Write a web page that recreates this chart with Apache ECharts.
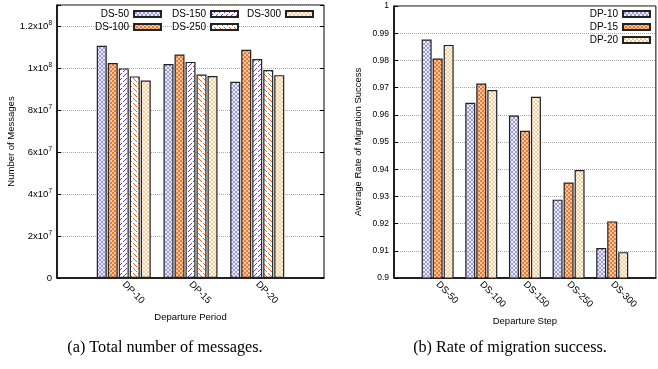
<!DOCTYPE html>
<html><head><meta charset="utf-8">
<script src="https://cdn.jsdelivr.net/npm/echarts@6/dist/echarts.min.js"></script>
<style>html,body{margin:0;padding:0;background:#fff}#c{width:658px;height:369px}</style>
</head><body><div id="c"></div>
<script>
// ---- data: (a) total number of messages ----
const periodCats = ['DP-10', 'DP-15', 'DP-20'];
const msgNames = ['DS-50', 'DS-100', 'DS-150', 'DS-250', 'DS-300'];
const msgDS50  = [1.106e8, 1.019e8, 0.934e8];
const msgDS100 = [1.024e8, 1.064e8, 1.087e8];
const msgDS150 = [0.998e8, 1.029e8, 1.043e8];
const msgDS250 = [0.960e8, 0.969e8, 0.990e8];
const msgDS300 = [0.940e8, 0.962e8, 0.966e8];
const msgTickLabels = {0: '0', 2e7: '2x10{s|7}', 4e7: '4x10{s|7}', 6e7: '6x10{s|7}', 8e7: '8x10{s|7}', 1e8: '1x10{s|8}', 1.2e8: '1.2x10{s|8}'};

// ---- data: (b) rate of migration success ----
const stepCats = ['DS-50', 'DS-100', 'DS-150', 'DS-250', 'DS-300'];
const rateNames = ['DP-10', 'DP-15', 'DP-20'];
const rateDP10 = [0.9877, 0.9644, 0.9597, 0.9288, 0.9110];
const rateDP15 = [0.9807, 0.9715, 0.9541, 0.9351, 0.9208];
const rateDP20 = [0.9857, 0.9691, 0.9666, 0.9397, 0.9095];

// ---- patterns ----
function makePattern(w, h, draw) {
  const c = document.createElement('canvas'); c.width = w; c.height = h;
  const g = c.getContext('2d'); draw(g, w, h);
  return {image: c, repeat: 'repeat'};
}
function lattice(fg, bg) {
  return makePattern(4, 4, (g) => {
    g.fillStyle = bg; g.fillRect(0, 0, 4, 4); g.fillStyle = fg;
    for (let i = 0; i < 4; i++) { g.fillRect(i, i, 1, 1); g.fillRect(3 - i, i, 1, 1); }
  });
}
function checker(a, b) {
  return makePattern(4, 4, (g) => {
    g.fillStyle = b; g.fillRect(0, 0, 4, 4); g.fillStyle = a;
    g.fillRect(0, 0, 2, 2); g.fillRect(2, 2, 2, 2);
  });
}
function stripes(fg, dir) {
  return makePattern(5, 5, (g) => {
    g.fillStyle = '#ffffff'; g.fillRect(0, 0, 5, 5); g.fillStyle = fg;
    for (let i = 0; i < 5; i++) { if (i === 2) continue; const y = dir > 0 ? 4 - i : i; g.fillRect(i, y, 1, 1); }
  });
}
const patLav = lattice('#9c9cd8', '#ececf9');
const patOrange = checker('#e97d38', '#f7c59e');
const patPurple = stripes('#6b3ec4', 1);
const patOrStripe = stripes('#f2620f', -1);
const patCream = lattice('#f8cd9c', '#fffaf3');
const msgPats = [patLav, patOrange, patPurple, patOrStripe, patCream];
const ratePats = [patLav, patOrange, patCream];

const FONT = 'Liberation Sans, Arial, sans-serif';
const barStyle = (p) => ({color: p, borderColor: '#222', borderWidth: 1.2});

const msgData = [msgDS50, msgDS100, msgDS150, msgDS250, msgDS300];
const rateData = [rateDP10, rateDP15, rateDP20];

const series = [];
msgNames.forEach((n, i) => series.push({
  name: n, type: 'bar', xAxisIndex: 0, yAxisIndex: 0, barWidth: 10, barGap: '10%',
  itemStyle: barStyle(msgPats[i]), data: [null, ...msgData[i], null]
}));
rateNames.forEach((n, i) => series.push({
  name: n, type: 'bar', xAxisIndex: 1, yAxisIndex: 2, barWidth: 10, barGap: '10%',
  itemStyle: barStyle(ratePats[i]), data: [null, ...rateData[i], null]
}));

function leg(name, right, top, fs) {
  return {data: [name], right: right, top: top, align: 'right', icon: 'rect', itemWidth: 27, itemHeight: 6,
    padding: 0, selectedMode: false, textStyle: {fontSize: fs, color: '#000', fontFamily: FONT}};
}

const axisBlack = {lineStyle: {color: '#000', width: 1.5}};
const option = {
  animation: false,
  textStyle: {fontFamily: FONT},
  grid: [
    {left: 57, top: 5, width: 267, height: 273, show: true, borderColor: '#000', borderWidth: 1},
    {left: 394, top: 6, width: 267, height: 272, show: true, borderColor: '#000', borderWidth: 1}
  ],
  legend: [
    leg('DS-50', 496, 9, 10), leg('DS-150', 419, 9, 10), leg('DS-300', 344, 9, 10),
    leg('DS-100', 496, 22, 10), leg('DS-250', 419, 22, 10),
    leg('DP-10', 7, 9, 10), leg('DP-15', 7, 22, 10), leg('DP-20', 7, 35, 10)
  ],
  xAxis: [
    {type: 'category', gridIndex: 0, data: ['', ...periodCats, ''], boundaryGap: false,
     axisLine: axisBlack, axisTick: {show: false}, splitLine: {show: false},
     axisLabel: {rotate: -45, fontSize: 9.5, color: '#000', margin: 5, interval: 0},
     name: 'Departure Period', nameLocation: 'middle', nameGap: 27,
     nameTextStyle: {fontSize: 9.5, color: '#000'}},
    {type: 'category', gridIndex: 1, data: ['', ...stepCats, ''], boundaryGap: false,
     axisLine: axisBlack, axisTick: {show: false}, splitLine: {show: false},
     axisLabel: {rotate: -45, fontSize: 9.5, color: '#000', margin: 5, interval: 0},
     name: 'Departure Step', nameLocation: 'middle', nameGap: 30,
     nameTextStyle: {fontSize: 9.5, color: '#000'}}
  ],
  yAxis: [
    {type: 'value', gridIndex: 0, min: 0, max: 1.3e8, interval: 2e7,
     axisLine: {show: true, lineStyle: {color: '#000', width: 1.5}},
     axisTick: {show: true, inside: true, length: 4, lineStyle: {color: '#000'}},
     splitLine: {show: true, lineStyle: {color: '#aaa', type: 'dotted', width: 1}},
     axisLabel: {fontSize: 9.5, color: '#000', margin: 5,
       formatter: (v) => msgTickLabels[v] !== undefined ? msgTickLabels[v] : '',
       rich: {s: {fontSize: 6.5, verticalAlign: 'top', padding: [0, 0, 6, 0]}}},
     name: 'Number of Messages', nameLocation: 'middle', nameGap: 39,
     nameTextStyle: {fontSize: 9.5, color: '#000'}},
    {type: 'value', gridIndex: 0, position: 'right', min: 0, max: 1.3e8, interval: 2e7,
     axisLine: {show: false}, axisLabel: {show: false}, splitLine: {show: false},
     axisTick: {show: true, inside: true, length: 4, lineStyle: {color: '#000'}}},
    {type: 'value', gridIndex: 1, min: 0.9, max: 1, interval: 0.01,
     axisLine: {show: true, lineStyle: {color: '#000', width: 1.5}},
     axisTick: {show: true, inside: true, length: 4, lineStyle: {color: '#000'}},
     splitLine: {show: true, lineStyle: {color: '#aaa', type: 'dotted', width: 1}},
     axisLabel: {fontSize: 8.5, color: '#000', margin: 5, formatter: (v) => String(+v.toFixed(2))},
     name: 'Average Rate of Migration Success', nameLocation: 'middle', nameGap: 31,
     nameTextStyle: {fontSize: 9.5, color: '#000'}}
  ],
  series: series,
  graphic: [
    {type: 'text', style: {text: '(a) Total number of messages.', x: 165, y: 348,
      align: 'center', verticalAlign: 'middle', font: '16.2px "Liberation Serif", "Times New Roman", serif', fill: '#000'}},
    {type: 'text', style: {text: '(b) Rate of migration success.', x: 510, y: 348,
      align: 'center', verticalAlign: 'middle', font: '16.2px "Liberation Serif", "Times New Roman", serif', fill: '#000'}}
  ]
};
const chart = echarts.init(document.getElementById('c'), null, {renderer: 'canvas'});
chart.setOption(option);
</script></body></html>
